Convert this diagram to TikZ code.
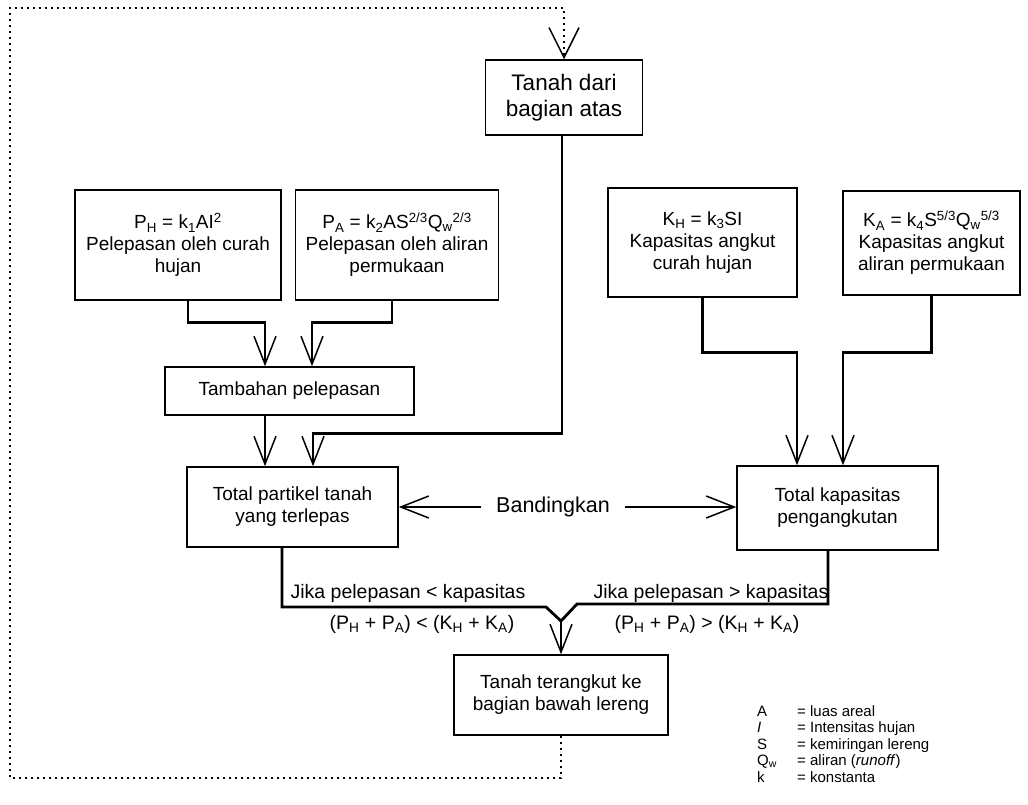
\documentclass[tikz,border=0pt]{standalone}
\usepackage{fontspec}
\setmainfont{Liberation Sans}
\usetikzlibrary{arrows.meta}
\tikzset{
  box/.style={draw, line width=1.5pt, align=center, inner sep=0pt, font=\fontsize{19}{22}\selectfont},
  conn/.style={line width=2.8pt},
  arr/.style={conn, -{Straight Barb[length=28pt,width=22pt,line width=1.5pt]}},
  dotarr/.style={line width=2.8pt, dash pattern=on 2.6pt off 3.4pt, -{Straight Barb[length=30pt,width=30pt,line width=1.5pt]}},
  lbl/.style={inner sep=0pt, font=\fontsize{19.5}{22}\selectfont},
  leg/.style={inner sep=0pt, anchor=base west, font=\fontsize{15}{17}\selectfont}
}
\newcommand{\sbs}[1]{\textsubscript{#1}}
\newcommand{\sps}[1]{\textsuperscript{#1}}
\begin{document}
\begin{tikzpicture}[x=1pt,y=-1pt]
\fill[white] (0,0) rectangle (1028,804);
\useasboundingbox (0,0) rectangle (1028,804);

% boxes
\node[box, minimum width=157pt, minimum height=75pt, font=\fontsize{22.5}{26}\selectfont] (tanahdari) at (564,97.5) {Tanah dari\\bagian atas};
\node[box, minimum width=206pt, minimum height=110pt] (ph) at (178,245) {P\sbs{H} = k\sbs{1}AI\sps{2}\\Pelepasan oleh curah\\hujan};
\node[box, minimum width=203pt, minimum height=110pt] (pa) at (397,245) {P\sbs{A} = k\sbs{2}AS\sps{2/3}Q\sbs{w}\sps{2/3}\\Pelepasan oleh aliran\\permukaan};
\node[box, minimum width=189pt, minimum height=109pt] (kh) at (702.5,242.5) {K\sbs{H} = k\sbs{3}SI\\Kapasitas angkut\\curah hujan};
\node[box, minimum width=177pt, minimum height=104pt] (ka) at (931.5,243) {K\sbs{A} = k\sbs{4}S\sps{5/3}Q\sbs{w}\sps{5/3}\\Kapasitas angkut\\aliran permukaan};
\node[box, minimum width=249pt, minimum height=48pt] (tambah) at (289.5,391) {Tambahan pelepasan};
\node[box, minimum width=211pt, minimum height=80pt] (total) at (292.5,507) {Total partikel tanah\\yang terlepas};
\node[box, minimum width=201pt, minimum height=84pt] (totkap) at (837.5,508) {Total kapasitas\\pengangkutan};
\node[box, minimum width=214pt, minimum height=80pt] (bawah) at (561,695) {Tanah terangkut ke\\bagian bawah lereng};

% labels
\node[lbl, inner xsep=15pt, font=\fontsize{21.5}{24}\selectfont] (band) at (553,507) {Bandingkan};
\node[lbl] (jk1) at (408,593) {Jika pelepasan < kapasitas};
\node[lbl] (jk2) at (711,593) {Jika pelepasan > kapasitas};
\node[lbl] (eq1) at (422,624) {(P\sbs{H} + P\sbs{A}) < (K\sbs{H} + K\sbs{A})};
\node[lbl] (eq2) at (707,624) {(P\sbs{H} + P\sbs{A}) > (K\sbs{H} + K\sbs{A})};

% legend
\node[leg] (la) at (757,716) {A};
\node[leg] (li) at (757,732) {\textit{I}};
\node[leg] (ls) at (757,749) {S};
\node[leg] (lq) at (757,765) {Q\sbs{w}};
\node[leg] (lk) at (757,782) {k};
\node[leg] (ta) at (797,716) {= luas areal};
\node[leg] (ti) at (797,732) {= Intensitas hujan};
\node[leg] (ts) at (797,749) {= kemiringan lereng};
\node[leg] (tq) at (797,765) {= aliran (\textit{runoff})};
\node[leg] (tk) at (797,782) {= konstanta};

% connectors
\draw[arr] ([xshift=10pt]ph.south) -- ++(0,22) -| ([xshift=-24.5pt]tambah.north);
\draw[arr] ([xshift=-5pt]pa.south) -- ++(0,22) -| ([xshift=22.5pt]tambah.north);
\draw[arr] ([xshift=-24.5pt]tambah.south) -- ([xshift=-24.5pt]tambah.south |- total.north);
\draw[arr] ([xshift=-2pt]tanahdari.south) -- ++(0,298) -| ([xshift=20.5pt]total.north);
\draw[arr] (kh.south) -- ++(0,55) -| ([xshift=-40.5pt]totkap.north);
\draw[arr] (ka.south) -- ++(0,57) -| ([xshift=5.5pt]totkap.north);
\draw[arr] (band.west) -- (band.west -| total.east);
\draw[arr] (band.east) -- (band.east -| totkap.west);

\coordinate (j) at (561,621);
\coordinate (jl) at (546,607);
\coordinate (jr) at (577,604);
\draw[conn, line join=miter] ([xshift=-10.5pt]total.south) |- (jl) -- (j);
\draw[conn, line join=miter] ([xshift=-9.5pt]totkap.south) |- (jr) -- (j);
\draw[arr] (j) -- (bawah.north);

% dotted loop
\coordinate (d1) at (10,778);
\coordinate (d2) at (10,8);
\draw[dotarr] (bawah.south) |- (d1) -- (d2) -| (tanahdari.north);
\end{tikzpicture}
\end{document}
